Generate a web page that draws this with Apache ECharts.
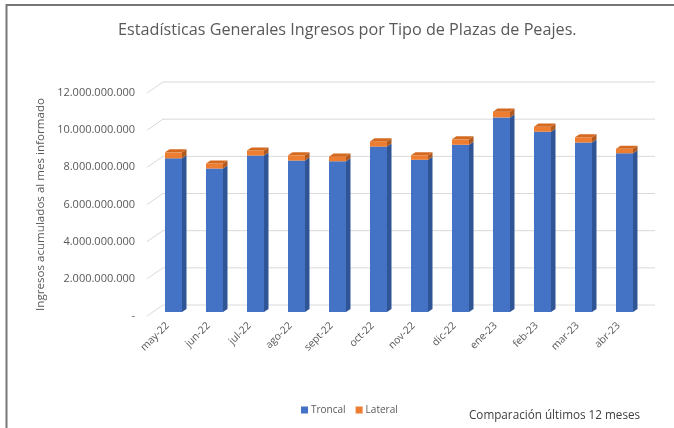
<!DOCTYPE html>
<html>
<head>
<meta charset="utf-8">
<script src="https://cdn.jsdelivr.net/npm/echarts@6/dist/echarts.min.js"></script>
<style>
  html, body { margin: 0; padding: 0; background: #fff; }
  #chart { width: 674px; height: 428px; }
</style>
</head>
<body>
<div id="chart"></div>
<script>
// 数据
var meses = ["may-22", "jun-22", "jul-22", "ago-22", "sept-22", "oct-22", "nov-22", "dic-22", "ene-23", "feb-23", "mar-23", "abr-23"];
var troncal = [8.27e9, 7.72e9, 8.42e9, 8.15e9, 8.11e9, 8.90e9, 8.19e9, 9.00e9, 10.47e9, 9.70e9, 9.12e9, 8.54e9];
var lateral = [0.32e9, 0.27e9, 0.27e9, 0.28e9, 0.25e9, 0.28e9, 0.24e9, 0.29e9, 0.31e9, 0.27e9, 0.28e9, 0.24e9];
var ticks = [0, 2e9, 4e9, 6e9, 8e9, 10e9, 12e9];

(function () {
  var myChart = echarts.init(document.getElementById("chart"));
  var font = "'Open Sans', 'Noto Sans', sans-serif";

  // 3D 偏移
  var wallDx = 16, wallDy = -11;   // 后墙
  var barDx = 6, barDy = -4;       // 柱子位置
  var depDx = 4.5, depDy = -3.1;   // 柱子厚度
  var faceW = 17;

  function fmt(v) {
    if (v === 0) return "-";
    return String(Math.round(v)).replace(/\B(?=(\d{3})+(?!\d))/g, ".");
  }

  var barData = meses.map(function (m, i) {
    return [i, troncal[i], lateral[i]];
  });

  function face(points, color) {
    return { type: "polygon", shape: { points: points }, style: { fill: color } };
  }

  function barPart(params, api, part) {
    var i = api.value(0);
    var t = api.value(1);
    var l = api.value(2);
    var base = api.coord([i, 0]);
    var cx = base[0] + barDx;
    var xl = cx - faceW / 2, xr = cx + faceW / 2;
    var y0 = base[1] + barDy;
    var yT = api.coord([i, t])[1] + barDy;
    var yS = api.coord([i, t + l])[1] + barDy;
    var ch = [];
    if (part === "t") {
      ch.push(face([[xl, y0], [xr, y0], [xr, yT], [xl, yT]], "#4472c4"));
      ch.push(face([[xr, y0], [xr + depDx, y0 + depDy], [xr + depDx, yT + depDy], [xr, yT]], "#2f5597"));
    } else {
      ch.push(face([[xl, yT], [xr, yT], [xr, yS], [xl, yS]], "#ed7d31"));
      ch.push(face([[xr, yT], [xr + depDx, yT + depDy], [xr + depDx, yS + depDy], [xr, yS]], "#ae5a21"));
      ch.push(face([[xl, yS], [xl + depDx, yS + depDy], [xr + depDx, yS + depDy], [xr, yS]], "#d4691f"));
    }
    return { type: "group", children: ch };
  }

  var option = {
    animation: false,
    title: [
      {
        text: "Estadísticas Generales Ingresos por Tipo de Plazas de Peajes.",
        left: 113,
        top: 17,
        textStyle: { fontFamily: font, fontSize: 16.2, fontWeight: "normal", color: "#595959" },
      },
      {
        text: "Comparación últimos 12 meses",
        left: 464,
        top: 405,
        textStyle: { fontFamily: font, fontSize: 11.7, fontWeight: "normal", color: "#404040" },
      },
    ],
    legend: {
      bottom: 8,
      left: 296,
      itemWidth: 7,
      itemHeight: 7,
      itemGap: 10,
      icon: "rect",
      textStyle: { fontFamily: font, fontSize: 10, color: "#595959", padding: [0, 0, 0, -2] },
      data: ["Troncal", "Lateral"],
    },
    graphic: [
      { type: "line", shape: { x1: 6, y1: 5, x2: 674, y2: 5 }, style: { stroke: "#767676", lineWidth: 2 } },
      { type: "line", shape: { x1: 6.5, y1: 4, x2: 6.5, y2: 428 }, style: { stroke: "#767676", lineWidth: 2 } },
    ],
    grid: { left: 147, right: 35, top: 93, bottom: 112 },
    xAxis: {
      type: "category",
      data: meses,
      axisLine: { show: false },
      axisTick: { show: false },
      axisLabel: {
        interval: 0,
        rotate: 45,
        margin: 8,
        fontFamily: font,
        fontSize: 10.3,
        color: "#595959",
      },
    },
    yAxis: {
      type: "value",
      min: 0,
      max: 12e9,
      interval: 2e9,
      name: "Ingresos acumulados al mes informado",
      nameLocation: "middle",
      nameGap: 97,
      nameTextStyle: { fontFamily: font, fontSize: 11.6, color: "#595959" },
      axisLine: { show: false },
      axisTick: { show: false },
      splitLine: { show: false },
      axisLabel: {
        margin: 12,
        fontFamily: font,
        fontSize: 11,
        color: "#595959",
        formatter: fmt,
      },
    },
    series: [
      {
        // 后墙网格线
        name: "grid",
        type: "custom",
        silent: true,
        data: ticks.map(function (v) { return [0, v]; }),
        renderItem: function (params, api) {
          var cs = params.coordSys;
          var y = api.coord([0, api.value(1)])[1];
          var x0 = cs.x;
          return {
            type: "polyline",
            shape: { points: [[x0, y], [x0 + wallDx, y + wallDy], [cs.x + cs.width + wallDx, y + wallDy]] },
            style: { stroke: "#d9d9d9", lineWidth: 1, fill: null },
          };
        },
        z: 1,
      },
      {
        name: "Troncal",
        type: "custom",
        itemStyle: { color: "#4472c4" },
        data: barData,
        renderItem: function (params, api) { return barPart(params, api, "t"); },
        z: 2,
      },
      {
        name: "Lateral",
        type: "custom",
        itemStyle: { color: "#ed7d31" },
        data: barData,
        renderItem: function (params, api) { return barPart(params, api, "l"); },
        z: 2,
      },
    ],
  };

  myChart.setOption(option);
  window.addEventListener("resize", function () {
    myChart.resize();
  });
})();
</script>
</body>
</html>
